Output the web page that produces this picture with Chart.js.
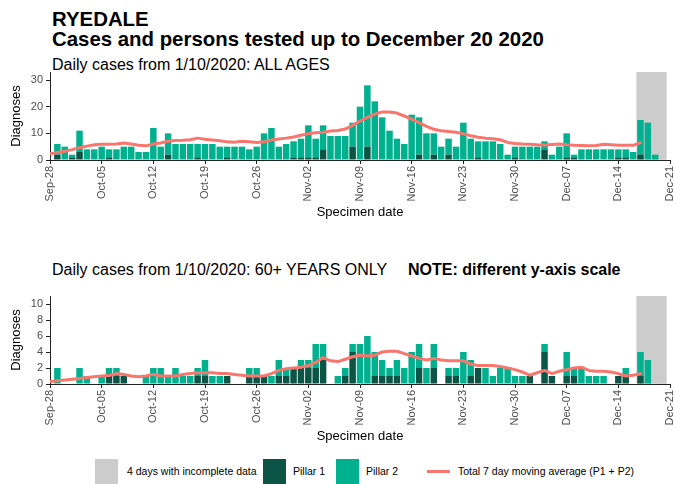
<!DOCTYPE html>
<html>
<head>
<meta charset="utf-8">
<script src="https://cdn.jsdelivr.net/npm/chart.js@4.4.0/dist/chart.umd.min.js"></script>
<style>
  body { margin: 0; width: 674px; height: 484px; background: #fff; position: relative; overflow: hidden;
         font-family: "Liberation Sans", Arial, sans-serif; color: #000; }
  .txt { position: absolute; white-space: nowrap; line-height: 1; }
  .title { font-size: 20.4px; font-weight: bold; left: 52px; }
  .sub { font-size: 16px; left: 52px; }
  canvas { position: absolute; left: 0; }
  .key { position: absolute; top: 459px; width: 23px; height: 25px; }
  .keytxt { position: absolute; top: 466px; font-size: 10.5px; line-height: 1; white-space: nowrap; }
  .keyline { position: absolute; top: 470px; width: 23px; height: 3px; background: #f8766d; }
</style>
</head>
<body>
<div class="txt title" style="top:9px">RYEDALE</div>
<div class="txt title" style="top:29px">Cases and persons tested up to December 20 2020</div>
<div class="txt sub" style="top:57px">Daily cases from 1/10/2020: ALL AGES</div>
<canvas id="allAges" width="674" height="154" style="top:66px"></canvas>
<div class="txt sub" style="top:262px">Daily cases from 1/10/2020: 60+ YEARS ONLY</div>
<div class="txt sub" style="top:262px;left:408px;font-weight:bold">NOTE: different y-axis scale</div>
<canvas id="over60" width="674" height="154" style="top:290px"></canvas>

<div class="key" style="left:95px;background:#cccccc"></div>
<div class="keytxt" style="left:127px">4 days with incomplete data</div>
<div class="key" style="left:263px;background:#0b5446"></div>
<div class="keytxt" style="left:293px">Pillar 1</div>
<div class="key" style="left:336px;background:#00b08e"></div>
<div class="keytxt" style="left:366px">Pillar 2</div>
<div class="keyline" style="left:427px"></div>
<div class="keytxt" style="left:458px">Total 7 day moving average (P1 + P2)</div>

<script>
// week ticks, Sep-28 .. Dec-21 (day 0 = Sep-28)
const tickLabels = ['Sep-28', 'Oct-05', 'Oct-12', 'Oct-19', 'Oct-26', 'Nov-02', 'Nov-09',
  'Nov-16', 'Nov-23', 'Nov-30', 'Dec-07', 'Dec-14', 'Dec-21'];
const incompleteDays = [80, 81, 82, 83];

// all ages, daily cases by day
const allPillar1 = [
  0, 2, 0, 1, 3, 0, 0, 0, 1, 0,
  0, 0, 0, 0, 0, 0, 2, 0, 0, 0,
  1, 0, 0, 0, 1, 0, 0, 0, 0, 0,
  0, 0, 0, 1, 1, 1, 1, 4, 0, 0,
  0, 5, 0, 5, 0, 0, 0, 0, 0, 0,
  2, 0, 2, 0, 2, 0, 0, 0, 1, 0,
  0, 0, 0, 1, 0, 0, 0, 4, 0, 0,
  1, 1, 0, 0, 0, 0, 0, 1, 1, 0,
  2, 0, 0, 0];
const allPillar2 = [
  0, 4, 5, 1, 8, 4, 4, 5, 3, 4,
  5, 5, 3, 3, 12, 5, 8, 6, 6, 6,
  5, 6, 6, 5, 4, 5, 5, 4, 5, 10,
  12, 5, 6, 6, 7, 12, 7, 9, 9, 9,
  9, 9, 20, 23, 22, 16, 11, 8, 6, 17,
  14, 10, 8, 5, 6, 5, 14, 8, 6, 7,
  7, 6, 2, 4, 5, 5, 5, 3, 2, 5,
  9, 1, 4, 4, 4, 4, 4, 3, 3, 3,
  13, 14, 2, 0];
const allAverage = [
  2.3, 2.8, 3.3, 3.9, 4.6, 5.2, 5.7, 5.9, 5.9, 6.0,
  6.4, 6.0, 5.5, 5.3, 6.0, 6.4, 7.0, 7.3, 7.4, 7.6,
  8.2, 7.8, 7.5, 7.2, 6.8, 6.7, 7.0, 6.8, 6.6, 6.8,
  7.5, 7.9, 8.2, 8.6, 9.3, 9.9, 10.2, 10.4, 10.9, 11.1,
  11.6, 13.0, 14.6, 16.0, 17.2, 18.0, 18.0, 17.6, 16.5, 15.3,
  14.0, 12.6, 11.5, 11.0, 10.7, 10.4, 9.8, 9.1, 8.5, 8.2,
  8.0, 7.6, 6.6, 6.2, 6.0, 5.9, 5.7, 5.6, 5.8, 6.0,
  5.7, 5.5, 5.4, 5.3, 5.4, 5.9, 5.7, 5.5, 5.5, 5.5,
  6.5];

// 60+ years only
const olderPillar1 = [
  0, 0, 0, 0, 0, 0, 0, 0, 1, 1,
  1, 0, 0, 0, 0, 0, 0, 0, 0, 0,
  1, 1, 0, 0, 1, 0, 0, 1, 1, 1,
  0, 1, 1, 2, 2, 2, 2, 3, 0, 0,
  1, 4, 0, 0, 1, 1, 1, 1, 0, 0,
  2, 0, 2, 0, 1, 1, 0, 1, 2, 0,
  0, 0, 0, 0, 0, 1, 0, 4, 1, 0,
  1, 1, 0, 0, 0, 0, 0, 1, 1, 0,
  1, 0, 0, 0];
const olderPillar2 = [
  0, 2, 0, 0, 2, 1, 0, 1, 1, 1,
  0, 0, 0, 1, 2, 2, 1, 2, 1, 1,
  1, 2, 1, 1, 0, 0, 0, 1, 1, 0,
  1, 2, 1, 0, 1, 1, 3, 2, 0, 1,
  1, 1, 5, 6, 3, 2, 1, 2, 2, 4,
  3, 2, 3, 0, 1, 1, 4, 2, 0, 2,
  1, 2, 2, 1, 1, 0, 0, 1, 0, 0,
  3, 1, 2, 1, 1, 1, 0, 0, 1, 0,
  3, 3, 0, 0];
const olderAverage = [
  0.3, 0.4, 0.5, 0.6, 0.7, 0.8, 0.9, 1.0, 1.05, 1.3,
  1.2, 1.0, 0.9, 1.0, 1.2, 1.0, 1.0, 1.0, 1.2, 1.3,
  1.4, 1.4, 1.4, 1.3, 1.3, 1.2, 1.1, 1.0, 1.0, 1.0,
  1.3, 1.7, 1.9, 2.0, 2.1, 2.3, 2.7, 3.3, 2.9, 2.8,
  3.1, 3.4, 3.6, 3.5, 3.6, 4.0, 4.1, 4.1, 3.8, 3.5,
  3.2, 3.0, 3.2, 3.0, 2.9, 2.9, 2.9, 2.5, 2.3, 2.3,
  2.3, 2.2, 2.0, 1.8, 1.5, 1.1, 1.4, 1.7, 1.3, 1.6,
  1.8, 2.0, 2.1, 1.7, 1.6, 1.6, 1.5, 1.3, 1.0, 1.1,
  1.3];

const colours = {
  pillar1: '#0b5446',
  pillar2: '#00b08e',
  average: '#f8766d',
  incomplete: '#cccccc',
  axis: '#222222',
  tickText: '#4d4d4d'
};

Chart.defaults.font.family = "'Liberation Sans', Arial, sans-serif";

function points(values) {
  return values.map((v, i) => ({ x: i, y: v }));
}

function drawPanel(canvasId, pillar1, pillar2, average, yMax, yStep) {
  new Chart(document.getElementById(canvasId), {
    data: {
      datasets: [
        {
          type: 'line', data: points(average), stack: 'average', order: 0,
          borderColor: colours.average, borderWidth: 3, pointRadius: 0,
          borderJoinStyle: 'round', borderCapStyle: 'round'
        },
        {
          type: 'bar', data: points(pillar1), stack: 'cases', order: 1,
          backgroundColor: colours.pillar1, barPercentage: 0.88, categoryPercentage: 1
        },
        {
          type: 'bar', data: points(pillar2), stack: 'cases', order: 1,
          backgroundColor: colours.pillar2, barPercentage: 0.88, categoryPercentage: 1
        },
        {
          type: 'bar', data: incompleteDays.map(d => ({ x: d, y: yMax })), stack: 'incomplete',
          grouped: false, order: 2, backgroundColor: colours.incomplete,
          barPercentage: 1, categoryPercentage: 1
        }
      ]
    },
    options: {
      responsive: false,
      animation: false,
      layout: { padding: { top: 6, right: 4, left: 0, bottom: 0 } },
      plugins: { legend: { display: false }, tooltip: { enabled: false } },
      scales: {
        x: {
          type: 'linear', min: 0, max: 84, offset: false,
          grid: { display: true, drawOnChartArea: false, drawTicks: true, tickLength: 4, color: colours.axis, offset: false },
          border: { display: true, color: colours.axis, width: 1 },
          ticks: {
            stepSize: 7, autoSkip: false, maxRotation: 90, minRotation: 90, padding: 2,
            font: { size: 11 }, color: colours.tickText,
            callback: v => tickLabels[v / 7]
          },
          title: { display: true, text: 'Specimen date', font: { size: 13 }, color: '#000', padding: 0 },
          afterFit: s => { s.height = 60; s.paddingLeft = 0; s.paddingRight = 0; }
        },
        y: {
          stacked: true, min: 0, max: yMax,
          grid: { display: true, drawOnChartArea: false, drawTicks: true, tickLength: 4, color: colours.axis },
          border: { display: true, color: colours.axis, width: 1 },
          ticks: { stepSize: yStep, includeBounds: false, padding: 3, font: { size: 11 }, color: colours.tickText },
          title: { display: true, text: 'Diagnoses', font: { size: 13 }, color: '#000', padding: { top: 9, bottom: 0 } },
          afterFit: s => { s.width = 50; s.paddingTop = 0; s.paddingBottom = 0; }
        }
      }
    }
  });
}

drawPanel('allAges', allPillar1, allPillar2, allAverage, 33, 5);
drawPanel('over60', olderPillar1, olderPillar2, olderAverage, 11, 2);
</script>
</body>
</html>
